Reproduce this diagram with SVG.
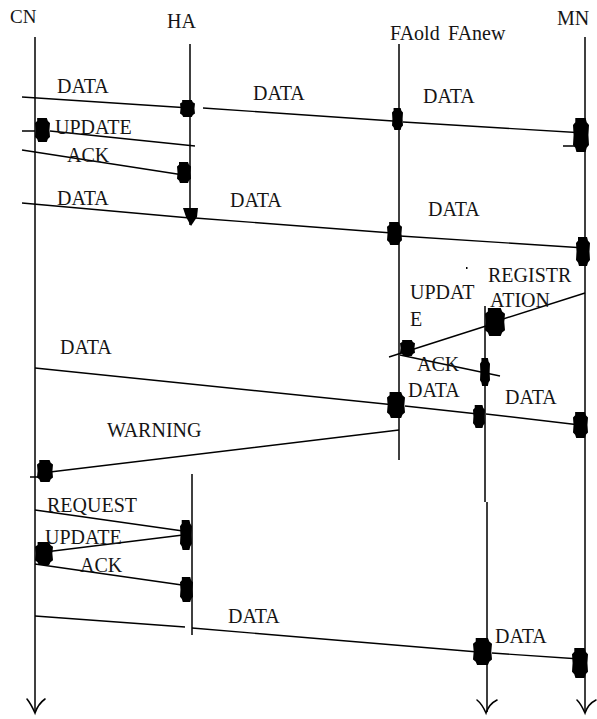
<svg xmlns="http://www.w3.org/2000/svg" width="597" height="719" viewBox="0 0 597 719">
  <style>
    .life { stroke: #000; stroke-width: 1.5; fill: none; }
    .msg { stroke: #000; stroke-width: 1.4; fill: none; }
    .end { stroke: #000; stroke-width: 1.6; fill: none; stroke-linecap: round; }
    text { font-family: "Liberation Serif", "DejaVu Serif", serif; font-size: 20px; fill: #151515; }
    .cn { font-size: 19px; }
  </style>
  <defs>
    <!-- rough filled arrow blob, stretched to each box -->
    <symbol id="blob" viewBox="0 0 14 24" preserveAspectRatio="none">
      <path d="M2,0 H11 L12,3 L14,5 L13.5,12 L14,19 L12,21 L11,24 H3 L2,21 L0,19 L0.5,12 L0,5 L2,3 Z" fill="#000"/>
    </symbol>
  </defs>

  <rect width="597" height="719" fill="#fff"/>

  <!-- lifelines -->
  <g id="CN" font-family="Liberation Serif, serif">
    <text class="cn" x="10" y="23">CN</text>
    <path class="life" d="M35,37 V712"/>
    <path class="end" d="M27,699 Q31,704 35,713 Q38,704 45,699"/>
  </g>
  <g id="HA">
    <text x="167" y="28">HA</text>
    <path class="life" d="M190,44 V225"/>
    <path class="life" d="M192,474 V635"/>
  </g>
  <g id="FAold">
    <text x="390" y="40">FAold</text>
    <path class="life" d="M399,44 V460"/>
  </g>
  <g id="FAnew">
    <text x="448" y="40">FAnew</text>
    <path class="life" d="M485,306 V502 M487,502 V712"/>
    <path class="end" d="M477,700 Q482,704 486,713 Q489,704 497,700"/>
  </g>
  <g id="MN">
    <text x="557" y="25">MN</text>
    <path class="life" d="M585,37 V712"/>
    <path class="end" d="M577,700 Q581,704 585,713 Q588,704 596,700"/>
  </g>

  <!-- messages -->
  <g id="connectors">
    <path class="msg" d="M22,97 L190,108"/>
    <use href="#blob" x="180" y="100" width="15" height="17"/>
    <path class="msg" d="M203,108 L393,121"/>
    <use href="#blob" x="392" y="108" width="11" height="22"/>
    <path class="msg" d="M403,122 L585,133 M563,146 L575,146"/>
    <use href="#blob" x="573" y="118" width="16" height="34"/>

    <path class="msg" d="M195,146 L50,131 M22,131 L35,131"/>
    <use href="#blob" x="35" y="118" width="15" height="24"/>

    <path class="msg" d="M22,150 L190,176"/>
    <use href="#blob" x="177" y="162" width="14" height="21"/>

    <path class="msg" d="M22,203 L190,218"/>
    <path d="M183,208 L198,208 L197,217 L191,226 L186,217 Z" fill="#000"/>
    <path class="msg" d="M195,218 L392,233"/>
    <use href="#blob" x="387" y="222" width="15" height="23"/>
    <path class="msg" d="M400,236 L585,248"/>
    <use href="#blob" x="576" y="237" width="14" height="29"/>

    <path class="msg" d="M585,293 L500,320"/>
    <use href="#blob" x="485" y="308" width="20" height="28"/>
    <path class="msg" d="M486,326 L389,357"/>
    <use href="#blob" x="400" y="340" width="15" height="16"/>
    <path class="msg" d="M400,355 L500,376"/>
    <use href="#blob" x="480" y="358" width="10" height="28"/>
    <rect x="466" y="267" width="1.5" height="2" fill="#000"/>

    <path class="msg" d="M35,368 L395,405"/>
    <use href="#blob" x="387" y="392" width="18" height="26"/>
    <path class="msg" d="M405,406 L478,414"/>
    <use href="#blob" x="473" y="405" width="12" height="23"/>
    <path class="msg" d="M486,414 L580,425"/>
    <use href="#blob" x="573" y="412" width="15" height="26"/>

    <path class="msg" d="M399,430 L50,472 M30,477 L45,477"/>
    <use href="#blob" x="37" y="460" width="16" height="22"/>

    <path class="msg" d="M35,510 L183,531"/>
    <use href="#blob" x="180" y="520" width="12" height="30"/>
    <path class="msg" d="M183,535 L45,552"/>
    <use href="#blob" x="35" y="542" width="18" height="23"/>
    <path class="msg" d="M35,564 L182,585"/>
    <use href="#blob" x="180" y="577" width="13" height="25"/>

    <path class="msg" d="M35,616 L185,627 M192,628 L478,652"/>
    <use href="#blob" x="473" y="638" width="19" height="27"/>
    <path class="msg" d="M492,653 L580,659"/>
    <use href="#blob" x="572" y="648" width="16" height="30"/>
  </g>

  <!-- message labels -->
  <g id="labels">
    <text x="57" y="93">DATA</text>
    <text x="253" y="100">DATA</text>
    <text x="423" y="103">DATA</text>
    <text x="55" y="134">UPDATE</text>
    <text x="67" y="162">ACK</text>
    <text x="57" y="205">DATA</text>
    <text x="230" y="207">DATA</text>
    <text x="428" y="216">DATA</text>
    <text x="488" y="282">REGISTR</text>
    <text x="490" y="307">ATION</text>
    <text x="410" y="299">UPDAT</text>
    <text x="410" y="326">E</text>
    <text x="417" y="371">ACK</text>
    <text x="60" y="354">DATA</text>
    <text x="408" y="397">DATA</text>
    <text x="505" y="404">DATA</text>
    <text x="107" y="437">WARNING</text>
    <text x="47" y="512">REQUEST</text>
    <text x="45" y="544">UPDATE</text>
    <text x="80" y="572">ACK</text>
    <text x="228" y="623">DATA</text>
    <text x="495" y="643">DATA</text>
  </g>
</svg>
